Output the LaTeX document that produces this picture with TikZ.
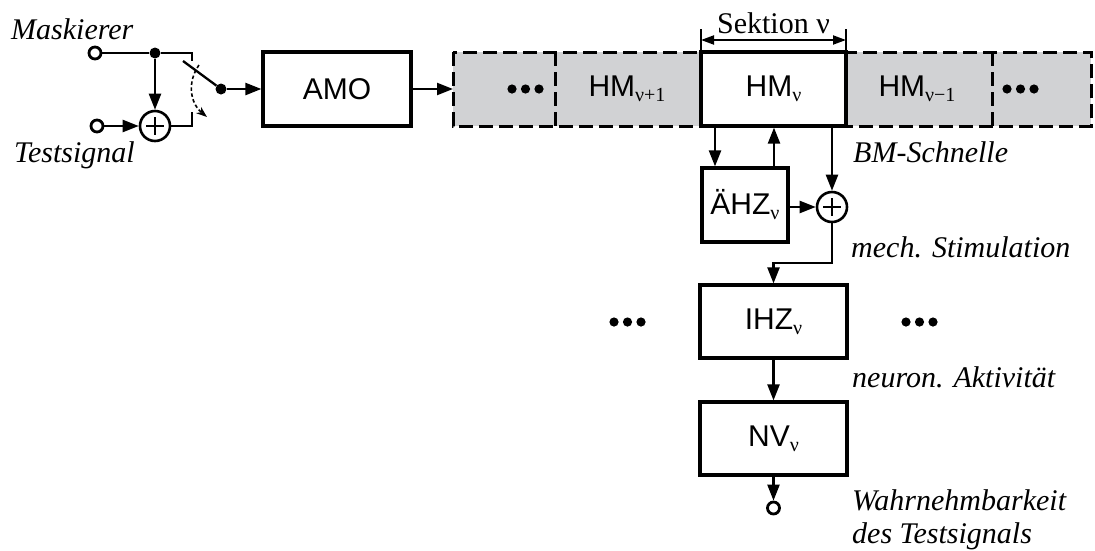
\documentclass[tikz,border=0pt]{standalone}
\usepackage{fontspec}
\setmainfont{Liberation Serif}
\setsansfont{Liberation Sans}
\usetikzlibrary{arrows.meta,calc}
\definecolor{stripgray}{RGB}{209,210,212}
\newcommand{\sbs}[1]{\raisebox{-5pt}{\fontsize{20}{20}\selectfont\rmfamily #1}}
\begin{document}
\begin{tikzpicture}[x=1pt,y=-1pt,
  every node/.style={font=\fontsize{30}{33}\selectfont},
  box/.style={draw, line width=3.2pt, inner sep=0pt, font=\fontsize{30}{33}\selectfont\sffamily},
  wire/.style={line width=2.3pt},
  arr/.style={line width=2.3pt, -{Triangle[length=16pt,width=12pt]}},
  sumc/.style={circle, draw, line width=2.6pt, minimum size=30pt, inner sep=0pt},
  opencirc/.style={circle, draw, line width=2.8pt, fill=white, minimum size=12pt, inner sep=0pt},
  dotn/.style={circle, fill, minimum size=11pt, inner sep=0pt},
  lbl/.style={font=\fontsize{30}{33}\selectfont\itshape, inner sep=0pt},
  dashline/.style={line width=3pt, dash pattern=on 14pt off 6pt}
]
\useasboundingbox (0,0) rectangle (1095,550);

% gray strip
\fill[stripgray] (453,52) rectangle (1091,126);
\draw[dashline] (453,52) rectangle (1091,126);
\draw[dashline] (555,52) -- (555,126);
\draw[dashline] (992,52) -- (992,126);

% input part
\node[opencirc] (min) at (95,53) {};
\node[opencirc] (tin) at (97,126) {};
\node[dotn] (j1) at (155,53) {};
\node[sumc] (s1) at (155,126) {};
\draw[line width=1.6pt] ($(s1)+(-9,0)$) -- ($(s1)+(9,0)$) ($(s1)+(0,-9)$) -- ($(s1)+(0,9)$);
\node[dotn] (sw) at (221,89) {};
\coordinate (c1) at (192,61);
\coordinate (c2) at (192,112);
\coordinate (bl) at (183,61);
\node[lbl, anchor=base west] (mask) at (11,39) {Maskierer};
\node[lbl, anchor=base west] (test) at (14,162) {Testsignal};

\draw[wire] (min) -- (j1) -| (c1);
\draw[arr] (j1) -- (s1);
\draw[arr] (tin) -- (s1);
\draw[wire] (s1) -| (c2);
\draw[wire] (bl) -- (sw);
\draw[line width=1.6pt, dash pattern=on 3.5pt off 2.5pt, -{Stealth[length=11pt,width=8pt]}] (199,65) .. controls (187,82) and (190,103) .. (207,117);

% AMO
\node[box, minimum width=148pt, minimum height=74pt] (amo) at (337,89) {AMO};
\coordinate (strip) at (453,89);
\draw[arr] (sw) -- (amo);
\draw[arr] (amo) -- (strip);

% HM sections
\node[box, fill=white, minimum width=145pt, minimum height=74pt] (hm) at (773.5,89) {HM\sbs{ν}};
\node[font=\fontsize{30}{33}\selectfont\sffamily] (hmp) at (627,89) {HM\sbs{ν+1}};
\node[font=\fontsize{30}{33}\selectfont\sffamily] (hmm) at (917,89) {HM\sbs{ν−1}};
\foreach \x in {512,525.5,539} \fill (\x,89) circle (4.6pt);
\foreach \x in {1007,1020.5,1034} \fill (\x,89) circle (4.6pt);

% Sektion
\coordinate (sl) at (701,40);
\coordinate (sr) at (846,40);
\draw[line width=2pt] (701,29) -- (701,52) (846,29) -- (846,52);
\draw[line width=2pt, {Triangle[length=13pt,width=9pt]}-{Triangle[length=13pt,width=9pt]}] (sl) -- (sr);
\node[anchor=base, inner sep=0pt] (sek) at (773.5,33) {Sektion ν};

% AeHZ and sum
\node[box, minimum width=86pt, minimum height=74pt] (ahz) at (745,205) {ÄHZ\sbs{ν}};
\node[sumc] (s2) at (832,207) {};
\draw[line width=1.6pt] ($(s2)+(-9,0)$) -- ($(s2)+(9,0)$) ($(s2)+(0,-9)$) -- ($(s2)+(0,9)$);
\draw[arr] ([xshift=-58.5pt]hm.south) -- ([xshift=-30pt]ahz.north);
\draw[arr] ([xshift=29pt]ahz.north) -- ([xshift=29pt]ahz.north |- hm.south);
\draw[arr] (s2 |- hm.south) -- (s2);
\draw[arr] (ahz.east |- s2) -- (s2);
\node[lbl, anchor=base west] (bm) at (853,162) {BM-Schnelle};

% IHZ, NV
\node[box, minimum width=147pt, minimum height=73pt] (ihz) at (773.5,321.5) {IHZ\sbs{ν}};
\node[box, minimum width=147pt, minimum height=73pt] (nv) at (773.5,438.5) {NV\sbs{ν}};
\node[opencirc] (out) at (773.5,508) {};
\coordinate (kink) at (773.5,263);
\draw[arr] (s2) |- (kink) -- (ihz);
\draw[arr] (ihz) -- (nv);
\draw[arr] (nv) -- (out);
\foreach \x in {614,627.5,641} \fill (\x,322) circle (4.6pt);
\foreach \x in {906,919.5,933} \fill (\x,322) circle (4.6pt);

\node[lbl, anchor=base west] (mech) at (851,257) {mech. Stimulation};
\node[lbl, anchor=base west] (neur) at (852,387) {neuron. Aktivität};
\node[lbl, anchor=base west] (wahr) at (852,510) {Wahrnehmbarkeit};
\node[lbl, anchor=base west] (dest) at (852,543) {des Testsignals};
\end{tikzpicture}
\end{document}
